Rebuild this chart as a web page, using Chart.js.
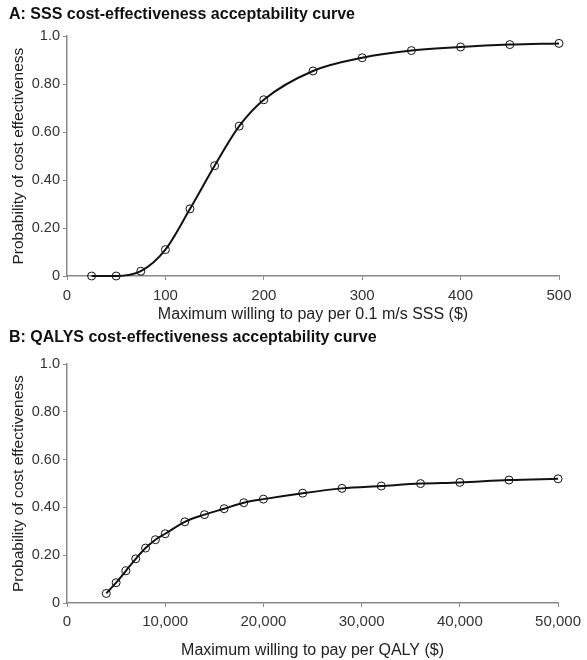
<!DOCTYPE html>
<html>
<head>
<meta charset="utf-8">
<script src="https://cdn.jsdelivr.net/npm/chart.js@4"></script>
<style>
  html, body { margin: 0; padding: 0; background: #fff; }
  canvas { display: block; }
</style>
</head>
<body>
<canvas id="chartA" width="587" height="326"></canvas>
<canvas id="chartB" width="587" height="334"></canvas>
<script>
// Panel A: willingness to pay per 0.1 m/s SSS vs probability of cost effectiveness
const sssWtp = [25, 50, 75, 100, 125, 150, 175, 200, 250, 300, 350, 400, 450, 500];
const sssProb = [0, 0, 0.02, 0.11, 0.28, 0.46, 0.625, 0.735, 0.855, 0.91, 0.94, 0.955, 0.965, 0.97];

// Panel B: willingness to pay per QALY
const qalyWtp = [4000, 5000, 6000, 7000, 8000, 9000, 10000, 12000, 14000, 16000, 18000, 20000,
  24000, 28000, 32000, 36000, 40000, 45000, 50000];
const qalyProb = [0.04, 0.085, 0.135, 0.185, 0.23, 0.265, 0.29, 0.34, 0.37, 0.395, 0.42, 0.435,
  0.46, 0.48, 0.49, 0.50, 0.505, 0.515, 0.52];

const yTicks = [0, 0.2, 0.4, 0.6, 0.8, 1.0];

const FONT = "'Liberation Sans', Arial, sans-serif";
const AXIS = "#888";

const fmtProb = (v) => (v === 0 ? "0" : v === 1 ? "1.0" : v.toFixed(2));

function makeChart(id, cfg) {
  const pts = cfg.xs.map((x, i) => ({ x, y: cfg.ys[i] }));
  return new Chart(document.getElementById(id), {
    type: "line",
    data: {
      datasets: [{
        data: pts,
        borderColor: "#111",
        borderWidth: 2,
        cubicInterpolationMode: "monotone",
        pointStyle: "circle",
        pointRadius: 4,
        pointBorderWidth: 1,
        pointBorderColor: "#111",
        pointBackgroundColor: "rgba(0,0,0,0)",
        clip: false,
      }],
    },
    options: {
      responsive: false,
      animation: false,
      layout: { padding: { left: 9, right: 28, top: 0, bottom: 0 } },
      plugins: {
        legend: { display: false },
        tooltip: { enabled: false },
        title: {
          display: true,
          text: cfg.title,
          align: "start",
          color: "#111",
          font: { family: FONT, size: 16, weight: "bold" },
          padding: cfg.titlePad,
        },
      },
      scales: {
        x: {
          type: "linear",
          min: 0, max: cfg.xMax,
          afterFit: (s) => { s.height = cfg.xAxisH; },
          border: { display: true, color: AXIS, width: 1.5 },
          grid: { drawOnChartArea: false, drawTicks: true, tickLength: 4, color: AXIS },
          ticks: {
            stepSize: cfg.xStep,
            maxRotation: 0,
            padding: cfg.xTickPad,
            color: "#333",
            font: { family: FONT, size: 15 },
            callback: (v) => v.toLocaleString("en-US"),
          },
          title: {
            display: true,
            text: cfg.xTitle,
            color: "#222",
            font: { family: FONT, size: 16 },
            padding: { top: 0, bottom: cfg.xTitlePad },
          },
        },
        y: {
          min: 0, max: 1,
          afterFit: (s) => { s.width = 58; },
          afterBuildTicks: (s) => { s.ticks = yTicks.map((v) => ({ value: v })); },
          border: { display: true, color: AXIS, width: 1.5 },
          grid: { drawOnChartArea: false, drawTicks: true, tickLength: 4, color: AXIS },
          ticks: {
            padding: 3,
            color: "#333",
            font: { family: FONT, size: 14.5 },
            callback: fmtProb,
          },
          title: {
            display: true,
            text: "Probability of cost effectiveness",
            color: "#222",
            font: { family: FONT, size: 15.5 },
            padding: { top: 0, bottom: 0 },
          },
        },
      },
    },
  });
}

makeChart("chartA", {
  title: "A: SSS cost-effectiveness acceptability curve",
  titlePad: { top: 5, bottom: 12 },
  xs: sssWtp, ys: sssProb,
  xMax: 500, xStep: 100,
  xAxisH: 50, xTickPad: 7, xTitlePad: 2,
  xTitle: "Maximum willing to pay per 0.1 m/s SSS ($)",
});

makeChart("chartB", {
  title: "B: QALYS cost-effectiveness acceptability curve",
  titlePad: { top: 2, bottom: 17 },
  xs: qalyWtp, ys: qalyProb,
  xMax: 50000, xStep: 10000,
  xAxisH: 57, xTickPad: 6, xTitlePad: 0,
  xTitle: "Maximum willing to pay per QALY ($)",
});
</script>
</body>
</html>
